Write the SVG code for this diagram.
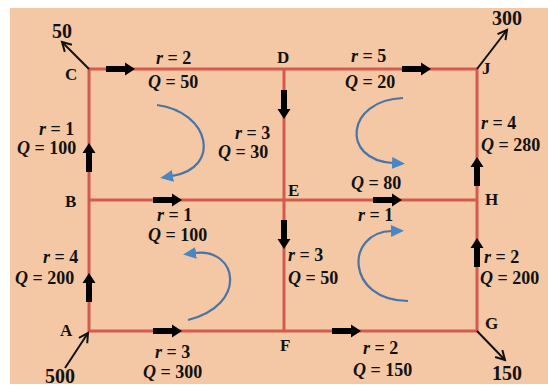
<svg xmlns="http://www.w3.org/2000/svg" xmlns:xlink="http://www.w3.org/1999/xlink" width="548" height="386" viewBox="0 0 548 386">
<style>
.pipe{stroke:#D45A4E;stroke-width:3;fill:none}
.lbl{font-family:"Liberation Serif",serif;font-weight:bold;font-size:18px;fill:#111}
.it{font-style:italic}
.node{font-family:"Liberation Serif",serif;font-weight:bold;font-size:17px;fill:#111}
.flow{font-family:"Liberation Serif",serif;font-weight:bold;font-size:20px;fill:#111}
.out{stroke:#111;stroke-width:2;fill:none}
.loop{stroke:#4A74A6;stroke-width:2.2;fill:none}
</style>
<defs>
<path id="ba" d="M0,-3 H19 V-6.5 L29,0 L19,6.5 V3 H0 Z" fill="#000"/>
<marker id="oh" markerWidth="14" markerHeight="14" refX="10" refY="6" orient="auto" markerUnits="userSpaceOnUse">
<path d="M1,1 L10,6 L1,11" fill="none" stroke="#111" stroke-width="2"/>
</marker>
<marker id="bh" markerWidth="16" markerHeight="14" refX="1" refY="6" orient="auto" markerUnits="userSpaceOnUse">
<path d="M0,0 L13,6 L0,12 Z" fill="#4A86C6"/>
</marker>
</defs>
<rect width="548" height="386" fill="#fff"/>
<rect x="10" y="8" width="538" height="376" fill="#F4C8A4"/>
<g id="connectors">
<path class="pipe" d="M89,69 H477 V331 H89 Z"/>
<path class="pipe" d="M89,200 H477"/>
<path class="pipe" d="M284,69 V331"/>
<use href="#ba" transform="translate(106,69)"/>
<use href="#ba" transform="translate(402,69)"/>
<use href="#ba" transform="translate(284,90) rotate(90)"/>
<use href="#ba" transform="translate(477,186) rotate(-90)"/>
<use href="#ba" transform="translate(89,172) rotate(-90)"/>
<use href="#ba" transform="translate(153,200)"/>
<use href="#ba" transform="translate(373,200)"/>
<use href="#ba" transform="translate(284,220) rotate(90)"/>
<use href="#ba" transform="translate(89,302) rotate(-90)"/>
<use href="#ba" transform="translate(153,331)"/>
<use href="#ba" transform="translate(332,331)"/>
<use href="#ba" transform="translate(477,267) rotate(-90)"/>
<line class="out" x1="89" y1="69" x2="62" y2="42" marker-end="url(#oh)"/>
<line class="out" x1="477" y1="69" x2="507" y2="30" marker-end="url(#oh)"/>
<line class="out" x1="477" y1="331" x2="505" y2="360" marker-end="url(#oh)"/>
<line class="out" x1="65" y1="368" x2="88" y2="333" marker-end="url(#oh)"/>
<path class="loop" d="M157,105 C210,112 222,168 172,176" marker-end="url(#bh)"/>
<path class="loop" d="M403,98 C346,100 340,160 393,163" marker-end="url(#bh)"/>
<path class="loop" d="M188,320 C248,305 238,248 195,253" marker-end="url(#bh)"/>
<path class="loop" d="M408,301 C345,300 345,232 392,231" marker-end="url(#bh)"/>
</g>
<g id="node-C"><text class="node" x="65" y="80">C</text><text class="flow" x="52" y="38">50</text></g>
<g id="node-D"><text class="node" x="277" y="63">D</text></g>
<g id="node-J"><text class="node" x="482" y="74">J</text><text class="flow" x="492" y="25">300</text></g>
<g id="node-B"><text class="node" x="65" y="207">B</text></g>
<g id="node-E"><text class="node" x="288" y="196">E</text></g>
<g id="node-H"><text class="node" x="485" y="205">H</text></g>
<g id="node-A"><text class="node" x="60" y="336">A</text><text class="flow" x="45" y="383">500</text></g>
<g id="node-F"><text class="node" x="280" y="351">F</text></g>
<g id="node-G"><text class="node" x="485" y="329">G</text><text class="flow" x="492" y="380">150</text></g>
<g id="labels">
<text class="lbl" x="156" y="64"><tspan class="it">r</tspan> = 2</text>
<text class="lbl" x="148" y="88"><tspan class="it">Q</tspan> = 50</text>
<text class="lbl" x="351" y="62"><tspan class="it">r</tspan> = 5</text>
<text class="lbl" x="345" y="88"><tspan class="it">Q</tspan> = 20</text>
<text class="lbl" x="39" y="135"><tspan class="it">r</tspan> = 1</text>
<text class="lbl" x="17" y="154"><tspan class="it">Q</tspan> = 100</text>
<text class="lbl" x="235" y="139"><tspan class="it">r</tspan> = 3</text>
<text class="lbl" x="218" y="158"><tspan class="it">Q</tspan> = 30</text>
<text class="lbl" x="481" y="129"><tspan class="it">r</tspan> = 4</text>
<text class="lbl" x="481" y="151"><tspan class="it">Q</tspan> = 280</text>
<text class="lbl" x="351" y="189"><tspan class="it">Q</tspan> = 80</text>
<text class="lbl" x="157" y="221"><tspan class="it">r</tspan> = 1</text>
<text class="lbl" x="148" y="241"><tspan class="it">Q</tspan> = 100</text>
<text class="lbl" x="358" y="221"><tspan class="it">r</tspan> = 1</text>
<text class="lbl" x="43" y="263"><tspan class="it">r</tspan> = 4</text>
<text class="lbl" x="15" y="284"><tspan class="it">Q</tspan> = 200</text>
<text class="lbl" x="288" y="261"><tspan class="it">r</tspan> = 3</text>
<text class="lbl" x="288" y="284"><tspan class="it">Q</tspan> = 50</text>
<text class="lbl" x="484" y="263"><tspan class="it">r</tspan> = 2</text>
<text class="lbl" x="480" y="284"><tspan class="it">Q</tspan> = 200</text>
<text class="lbl" x="155" y="358"><tspan class="it">r</tspan> = 3</text>
<text class="lbl" x="143" y="378"><tspan class="it">Q</tspan> = 300</text>
<text class="lbl" x="363" y="354"><tspan class="it">r</tspan> = 2</text>
<text class="lbl" x="353" y="376"><tspan class="it">Q</tspan> = 150</text>
</g>
</svg>
